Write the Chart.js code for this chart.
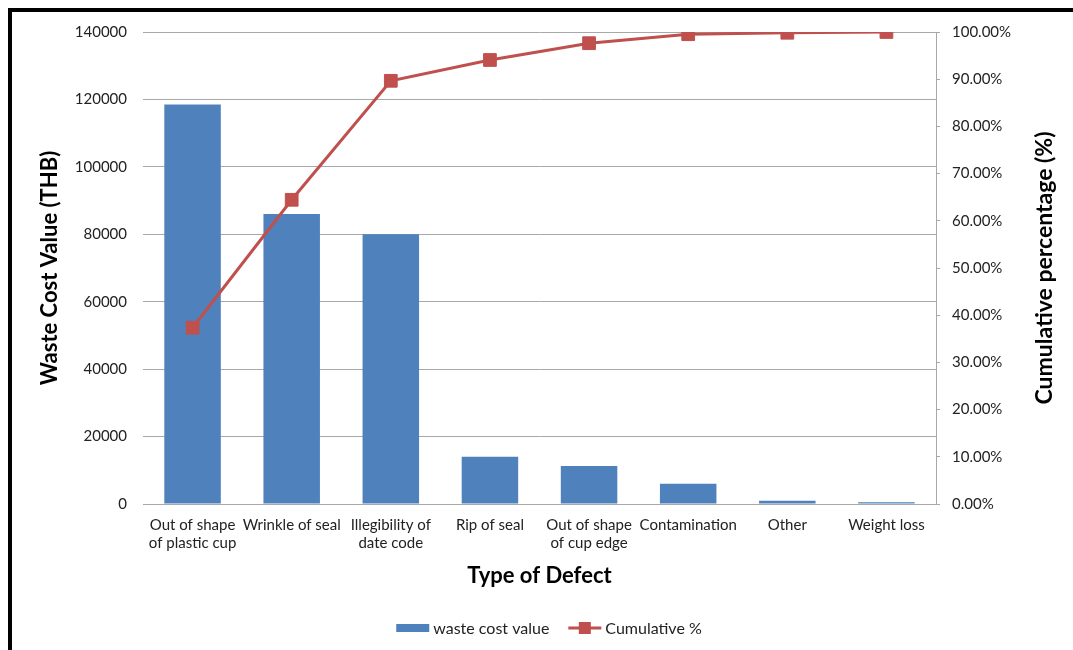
<!DOCTYPE html>
<html>
<head>
<meta charset="utf-8">
<script src="https://cdn.jsdelivr.net/npm/chart.js@4.4.1/dist/chart.umd.min.js"></script>
<style>
  html, body { margin: 0; padding: 0; background: #fff; overflow: hidden; width: 1073px; height: 650px; }
  #frame { position: absolute; left: 8px; top: 8px; width: 2000px; height: 2000px; border: 4px solid #000; box-sizing: border-box; }
  #c { position: absolute; left: 0; top: 0; }
</style>
</head>
<body>
<div id="frame"></div>
<canvas id="c" width="1073" height="650"></canvas>
<script>
// Defect categories (multi-line labels as arrays)
const categories = [
  ['Out of shape', 'of plastic cup'],
  'Wrinkle of seal',
  ['Illegibility of', 'date code'],
  'Rip of seal',
  ['Out of shape', 'of cup edge'],
  'Contamination',
  'Other',
  'Weight loss'
];
// Waste cost per defect type (THB)
const wasteCost = [118500, 86000, 80000, 14000, 11300, 6000, 1000, 500];
// Cumulative share of total waste cost (%)
const cumulativePct = [37.35, 64.45, 89.66, 94.07, 97.63, 99.53, 99.84, 100];
// Axis ranges / ticks
const costMax = 140000, costStep = 20000;
const pctMax = 100, pctStep = 10;

const FONT = 'Lato';
const TEXT = '#222222';
const GRID = '#a8a8a8';
const BAR = '#4F81BD';
const LINE = '#C0504D';

const titlesAndLegend = {
  id: 'titlesAndLegend',
  afterDraw(chart) {
    const ctx = chart.ctx;
    const a = chart.chartArea;
    const midY = (a.top + a.bottom) / 2;
    ctx.save();
    ctx.fillStyle = '#000';
    ctx.textAlign = 'center';
    ctx.textBaseline = 'middle';
    // left axis title
    ctx.font = 'bold 22px ' + FONT;
    ctx.save();
    ctx.translate(50, midY);
    ctx.rotate(-Math.PI / 2);
    ctx.fillText('Waste Cost Value (THB)', 0, 0);
    ctx.restore();
    // right axis title
    ctx.font = 'bold 23px ' + FONT;
    ctx.save();
    ctx.translate(1045, midY);
    ctx.rotate(-Math.PI / 2);
    ctx.fillText('Cumulative percentage (%)', 0, 0);
    ctx.restore();
    // x axis title
    ctx.font = 'bold 22px ' + FONT;
    ctx.fillText('Type of Defect', (a.left + a.right) / 2, 576);

    // legend
    ctx.font = '16px ' + FONT;
    ctx.fillStyle = TEXT;
    ctx.textAlign = 'left';
    const ds = chart.data.datasets;
    const sym = 33, gap = 4, itemGap = 19;
    const widths = ds.map(d => sym + gap + ctx.measureText(d.label).width);
    const total = widths.reduce((s, w) => s + w, 0) + itemGap * (ds.length - 1);
    let x = 549 - total / 2;
    const y = 628;
    ds.forEach((d, i) => {
      if (d.type === 'line') {
        ctx.strokeStyle = d.borderColor;
        ctx.lineWidth = 3;
        ctx.beginPath();
        ctx.moveTo(x, y);
        ctx.lineTo(x + sym, y);
        ctx.stroke();
        ctx.fillStyle = d.borderColor;
        ctx.fillRect(x + sym / 2 - 6, y - 6, 12, 12);
      } else {
        ctx.fillStyle = d.backgroundColor;
        ctx.fillRect(x, y - 4, sym, 8);
      }
      ctx.fillStyle = TEXT;
      ctx.fillText(d.label, x + sym + gap, y + 1);
      x += widths[i] + itemGap;
    });
    ctx.restore();
  }
};

new Chart(document.getElementById('c'), {
  data: {
    labels: categories,
    datasets: [
      {
        type: 'bar',
        label: 'waste cost value',
        data: wasteCost,
        backgroundColor: BAR,
        borderWidth: 0,
        categoryPercentage: 1,
        barPercentage: 0.57,
        yAxisID: 'y',
        order: 2
      },
      {
        type: 'line',
        label: 'Cumulative %',
        data: cumulativePct,
        borderColor: LINE,
        backgroundColor: LINE,
        borderWidth: 3,
        pointStyle: 'rect',
        pointRadius: 9,
        pointBorderWidth: 1,
        pointBackgroundColor: LINE,
        pointBorderColor: LINE,
        tension: 0,
        yAxisID: 'y1',
        order: 1
      }
    ]
  },
  options: {
    responsive: false,
    animation: false,
    devicePixelRatio: 1,
    layout: { padding: { left: 0, right: 0, top: 32, bottom: 60 } },
    plugins: { legend: { display: false }, tooltip: { enabled: false } },
    scales: {
      x: {
        afterFit(s) { s.height = 86; },
        grid: { display: false, drawTicks: false },
        border: { display: true, color: GRID, width: 1 },
        ticks: { color: TEXT, font: { family: FONT, size: 15 }, padding: 12, maxRotation: 0, autoSkip: false }
      },
      y: {
        position: 'left',
        min: 0, max: costMax,
        afterFit(s) { s.width = 143; },
        grid: { color: GRID, lineWidth: 1, drawTicks: false },
        border: { display: false },
        ticks: { stepSize: costStep, color: TEXT, font: { family: FONT, size: 15 }, padding: 16,
                 callback: v => String(v) }
      },
      y1: {
        position: 'right',
        min: 0, max: pctMax,
        afterFit(s) { s.width = 137; },
        grid: { drawOnChartArea: false, color: GRID, tickLength: 4 },
        border: { display: true, color: GRID, width: 1 },
        ticks: { stepSize: pctStep, color: TEXT, font: { family: FONT, size: 15 }, padding: 12,
                 callback: v => v.toFixed(2) + '%' }
      }
    }
  },
  plugins: [titlesAndLegend]
});
</script>
</body>
</html>
